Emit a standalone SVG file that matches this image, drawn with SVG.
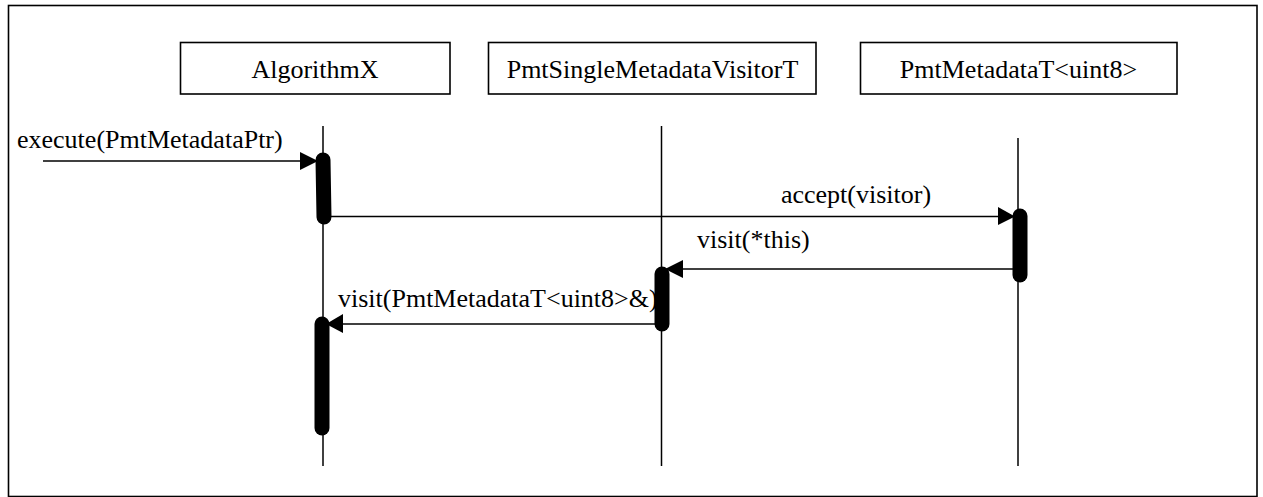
<svg xmlns="http://www.w3.org/2000/svg" width="1263" height="497" viewBox="0 0 1263 497">
<style>
.t{font-family:'Liberation Serif','Tinos','Times New Roman','DejaVu Serif',serif;font-size:26px;fill:#000}
.box{fill:#fff;stroke:#000;stroke-width:1.6}
.life{stroke:#000;stroke-width:1.5;fill:none}
.act{stroke:#000;stroke-width:15;stroke-linecap:round;fill:none}
.msg{stroke:#000;stroke-width:1.5;fill:none}
.head{fill:#000;stroke:none}
</style>
<rect x="8.5" y="5.5" width="1248.5" height="491" fill="#fff" stroke="#000" stroke-width="1.6"/>
<g id="algorithmx">
<rect class="box" x="180.5" y="42.5" width="269.5" height="51.5"/>
<text class="t" x="315" y="78" text-anchor="middle">AlgorithmX</text>
<line class="life" x1="323" y1="126" x2="323" y2="466"/>
<line class="act" x1="323" y1="160" x2="324" y2="217"/>
<line class="act" x1="322" y1="324" x2="322" y2="428"/>
</g>
<g id="visitor">
<rect class="box" x="488.5" y="42.5" width="327.5" height="51.5"/>
<text class="t" x="652.5" y="78" text-anchor="middle">PmtSingleMetadataVisitorT</text>
<line class="life" x1="661.5" y1="126" x2="661.5" y2="466"/>
<line class="act" x1="662" y1="274" x2="662" y2="324"/>
</g>
<g id="metadata">
<rect class="box" x="860.5" y="42.5" width="316.5" height="51.5"/>
<text class="t" x="1018.5" y="78" text-anchor="middle">PmtMetadataT&lt;uint8&gt;</text>
<line class="life" x1="1018" y1="138" x2="1018" y2="466"/>
<line class="act" x1="1020" y1="216" x2="1020" y2="275"/>
</g>
<g id="connectors">
<line class="msg" x1="43" y1="161" x2="302" y2="161"/>
<polygon class="head" points="300,152 300,170 318,161"/>
<text class="t" x="17" y="148">execute(PmtMetadataPtr)</text>
<line class="msg" x1="330" y1="216.5" x2="1000" y2="216.5"/>
<polygon class="head" points="998,207 998,225 1015,216.5"/>
<text class="t" x="856" y="203" text-anchor="middle">accept(visitor)</text>
<line class="msg" x1="1013" y1="269" x2="680" y2="269"/>
<polygon class="head" points="683,260 683,278 665,269"/>
<text class="t" x="697" y="248">visit(*this)</text>
<line class="msg" x1="656" y1="324" x2="340" y2="324"/>
<polygon class="head" points="343,314 343,333 326,324"/>
<text class="t" x="338" y="307">visit(PmtMetadataT&lt;uint8&gt;&amp;)</text>
</g>
</svg>
